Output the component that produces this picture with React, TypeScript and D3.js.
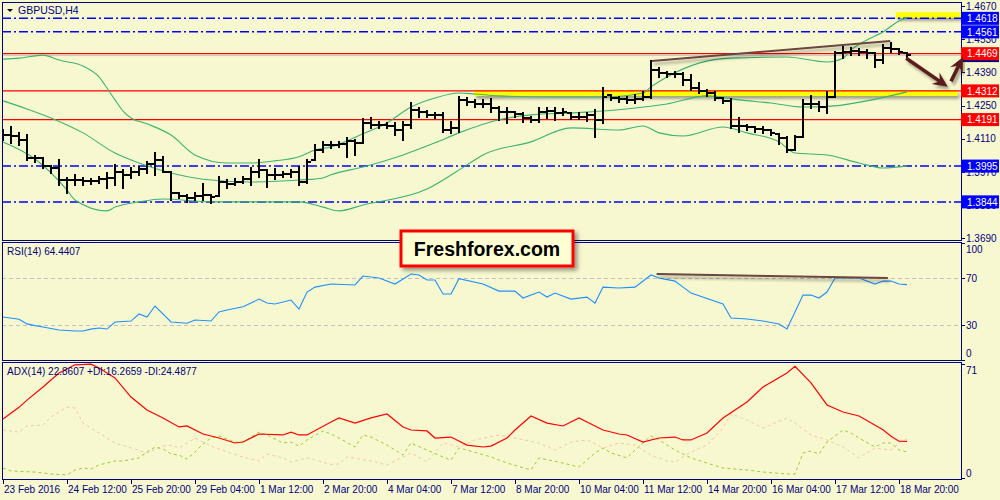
import React from 'react';
import * as d3 from 'd3';

const symbolTitle = 'GBPUSD,H4';
const rsiTitle = 'RSI(14) 64.4407';
const adxTitle = 'ADX(14) 22.8607 +DI:16.2659 -DI:24.4877';
const logoText = 'Freshforex.com';

const timeLabels = ['23 Feb 2016', '24 Feb 12:00', '25 Feb 20:00', '29 Feb 04:00', '1 Mar 12:00', '2 Mar 20:00', '4 Mar 04:00', '7 Mar 12:00', '8 Mar 20:00', '10 Mar 04:00', '11 Mar 12:00', '14 Mar 20:00', '16 Mar 04:00', '17 Mar 12:00', '18 Mar 20:00'];
const priceTicks = [1.467, 1.453, 1.439, 1.425, 1.411, 1.397, 1.383, 1.369];
const levelPrices = [1.4618, 1.4561, 1.4469, 1.4312, 1.4191, 1.3995, 1.3844];
const levelKinds = ['blue', 'blue', 'red', 'red', 'red', 'blue', 'blue'];
const bidPrice = 1.4463;
const rsiTicks = [100, 70, 30, 0];
const rsiLevels = [70, 30];
const adxTicks = [71, 0];

const barOpen = [1.4139, 1.4126, 1.4122, 1.4105, 1.4029, 1.4029, 1.3996, 1.3987, 1.3936, 1.3936, 1.3936, 1.3932, 1.3932, 1.3941, 1.3945, 1.397, 1.3958, 1.397, 1.3983, 1.4004, 1.4021, 1.397, 1.3882, 1.3869, 1.386, 1.3869, 1.3873, 1.3869, 1.3928, 1.392, 1.3928, 1.3941, 1.397, 1.3979, 1.3958, 1.3958, 1.3962, 1.397, 1.3928, 1.4021, 1.4063, 1.4084, 1.4084, 1.4088, 1.4101, 1.4093, 1.4177, 1.4168, 1.4168, 1.4164, 1.4147, 1.4168, 1.4232, 1.4223, 1.4211, 1.4211, 1.4147, 1.4156, 1.4274, 1.4265, 1.4257, 1.4257, 1.424, 1.4223, 1.4223, 1.4215, 1.4198, 1.419, 1.4223, 1.4227, 1.4219, 1.4219, 1.4202, 1.4202, 1.4211, 1.419, 1.4295, 1.4282, 1.4278, 1.4274, 1.4278, 1.4286, 1.44, 1.4387, 1.4383, 1.4383, 1.4358, 1.4324, 1.4312, 1.4303, 1.4282, 1.427, 1.4164, 1.4164, 1.416, 1.4152, 1.4147, 1.4131, 1.4114, 1.4063, 1.4118, 1.4257, 1.4257, 1.4244, 1.4286, 1.4472, 1.4476, 1.448, 1.4476, 1.4472, 1.4442, 1.4493, 1.4488, 1.4472];
const barHigh = [1.4147, 1.416, 1.4135, 1.4126, 1.4038, 1.4029, 1.3996, 1.4021, 1.3945, 1.3958, 1.3945, 1.3941, 1.3949, 1.3966, 1.4, 1.3979, 1.3987, 1.3991, 1.4012, 1.405, 1.4034, 1.397, 1.3882, 1.3873, 1.3882, 1.392, 1.3873, 1.3949, 1.3936, 1.3941, 1.3949, 1.3987, 1.4021, 1.3979, 1.3983, 1.397, 1.3979, 1.3991, 1.4021, 1.4084, 1.4097, 1.4097, 1.4097, 1.4114, 1.4105, 1.4194, 1.4198, 1.4181, 1.4177, 1.4177, 1.4181, 1.4261, 1.424, 1.4227, 1.4219, 1.4219, 1.4181, 1.4286, 1.4282, 1.4274, 1.4274, 1.4278, 1.4244, 1.424, 1.4223, 1.4219, 1.4202, 1.424, 1.424, 1.424, 1.4236, 1.4219, 1.4219, 1.4219, 1.4232, 1.4324, 1.4295, 1.4286, 1.4286, 1.4295, 1.4308, 1.4438, 1.4408, 1.4392, 1.4392, 1.4387, 1.4379, 1.4345, 1.4316, 1.4308, 1.4282, 1.4278, 1.4198, 1.4168, 1.416, 1.416, 1.4147, 1.4131, 1.4118, 1.4122, 1.4274, 1.4291, 1.4265, 1.4308, 1.4476, 1.4497, 1.4493, 1.4488, 1.4484, 1.4472, 1.4505, 1.4514, 1.4488, 1.4472];
const barLow = [1.4105, 1.4093, 1.4084, 1.4021, 1.4012, 1.3987, 1.3966, 1.3915, 1.3882, 1.3915, 1.3915, 1.392, 1.3924, 1.3903, 1.3915, 1.3903, 1.3945, 1.3958, 1.3966, 1.3958, 1.397, 1.3852, 1.386, 1.3844, 1.3852, 1.3852, 1.3839, 1.3869, 1.3903, 1.3915, 1.3924, 1.3915, 1.3949, 1.3907, 1.3941, 1.3949, 1.3949, 1.3915, 1.3924, 1.4021, 1.4055, 1.4072, 1.4076, 1.4034, 1.4042, 1.4093, 1.4156, 1.4156, 1.4156, 1.4126, 1.4105, 1.4156, 1.4202, 1.4202, 1.4198, 1.4139, 1.4135, 1.4139, 1.4253, 1.4244, 1.4244, 1.4223, 1.419, 1.4177, 1.4202, 1.4181, 1.4181, 1.4181, 1.4198, 1.419, 1.4211, 1.4194, 1.4194, 1.4185, 1.4118, 1.4177, 1.4274, 1.4265, 1.4261, 1.4261, 1.4274, 1.4282, 1.4371, 1.4371, 1.4371, 1.4337, 1.4316, 1.4303, 1.4291, 1.4274, 1.4261, 1.4156, 1.4139, 1.4147, 1.4139, 1.4135, 1.4126, 1.4088, 1.4055, 1.4063, 1.4118, 1.424, 1.4227, 1.4219, 1.4286, 1.445, 1.4463, 1.4463, 1.445, 1.4413, 1.4429, 1.4476, 1.4467, 1.4455];
const barClose = [1.4126, 1.4122, 1.4105, 1.4029, 1.4029, 1.3996, 1.3987, 1.3936, 1.3936, 1.3936, 1.3932, 1.3932, 1.3941, 1.3945, 1.397, 1.3958, 1.397, 1.3983, 1.4004, 1.4021, 1.397, 1.3882, 1.3869, 1.386, 1.3869, 1.3873, 1.3865, 1.3928, 1.392, 1.3928, 1.3941, 1.397, 1.3979, 1.3958, 1.3958, 1.3962, 1.397, 1.3928, 1.4012, 1.4063, 1.4084, 1.4084, 1.4088, 1.4101, 1.4093, 1.4177, 1.4168, 1.4168, 1.4164, 1.4147, 1.4168, 1.4232, 1.4223, 1.4211, 1.4211, 1.4147, 1.4156, 1.4274, 1.4265, 1.4257, 1.4257, 1.424, 1.4223, 1.4223, 1.4215, 1.4198, 1.419, 1.4223, 1.4227, 1.4219, 1.4223, 1.4202, 1.4202, 1.4211, 1.419, 1.4286, 1.4282, 1.4278, 1.4274, 1.4278, 1.4286, 1.44, 1.4387, 1.4383, 1.4383, 1.4358, 1.4324, 1.4312, 1.4303, 1.4282, 1.427, 1.4164, 1.4164, 1.416, 1.4152, 1.4147, 1.4135, 1.4114, 1.4063, 1.4118, 1.4257, 1.4257, 1.4244, 1.4286, 1.4472, 1.4476, 1.448, 1.4476, 1.4472, 1.4442, 1.4493, 1.4488, 1.4476, 1.4463];

// Bollinger bands [bar, price]
const bbUpper: [number, number][] = [[0, 1.4446], [2, 1.445], [5, 1.4463], [7, 1.4442], [10, 1.4417], [12, 1.4371], [13, 1.4324], [14, 1.4274], [15, 1.4227], [16, 1.4198], [18, 1.4173], [21, 1.4126], [24, 1.4042], [28, 1.4008], [31, 1.4008], [34, 1.4017], [37, 1.4034], [39, 1.4063], [41, 1.4076], [45, 1.4131], [48, 1.4177], [51, 1.4244], [54, 1.4282], [57, 1.4303], [59, 1.4299], [62, 1.4291], [69, 1.4286], [75, 1.4286], [80, 1.4303], [81, 1.4329], [83, 1.4371], [87, 1.4429], [91, 1.445], [98, 1.4455], [103, 1.4434], [105, 1.445], [106, 1.4484], [108, 1.4527], [110, 1.456], [112, 1.4607], [113, 1.4619]];
const bbMiddle: [number, number][] = [[0, 1.427], [3, 1.4236], [6, 1.4198], [10, 1.4135], [14, 1.405], [17, 1.4008], [21, 1.3966], [26, 1.3936], [31, 1.3928], [37, 1.3936], [40, 1.3945], [41, 1.3958], [45, 1.3991], [50, 1.4042], [54, 1.4093], [57, 1.4135], [62, 1.419], [66, 1.4211], [71, 1.4219], [75, 1.4227], [79, 1.424], [83, 1.4257], [88, 1.4291], [92, 1.4274], [96, 1.4261], [100, 1.4244], [104, 1.4249], [108, 1.427], [113, 1.4308]];
const bbLower: [number, number][] = [[0, 1.4097], [4, 1.4025], [8, 1.3894], [9, 1.3852], [13, 1.3806], [14, 1.3822], [17, 1.3844], [20, 1.3856], [26, 1.3844], [35, 1.3844], [37, 1.3844], [40, 1.3822], [42, 1.3806], [45, 1.3831], [53, 1.3898], [58, 1.4], [60, 1.4042], [66, 1.4097], [71, 1.4156], [77, 1.4147], [80, 1.4164], [82, 1.4135], [85, 1.4122], [90, 1.416], [93, 1.4135], [97, 1.4097], [99, 1.405], [103, 1.4042], [107, 1.4008], [110, 1.3987], [113, 1.3996]];

const rsiValues: [number, number][] = [[0, 36.8], [2, 35.0], [3, 31.0], [4, 29.5], [5, 28.3], [7, 25.8], [9, 24.9], [10, 24.9], [11, 26.5], [12, 27.5], [13, 26.6], [14, 32.6], [16, 33.4], [17, 39.4], [18, 36.8], [19, 46.2], [21, 32.6], [23, 31.5], [24, 34.3], [26, 33.4], [27, 41.1], [28, 42.8], [30, 45.5], [32, 52.1], [33, 48.7], [34, 47.9], [36, 51.3], [37, 43.6], [38, 58.1], [39, 62.3], [41, 64.9], [44, 64.1], [45, 71.7], [47, 70.0], [49, 64.9], [51, 73.4], [52, 72.6], [53, 68.4], [54, 68.4], [55, 56.4], [56, 56.4], [57, 69.5], [60, 64.9], [62, 58.9], [64, 58.9], [65, 53.0], [67, 58.1], [68, 53.8], [69, 57.2], [71, 52.1], [73, 53.8], [74, 48.7], [75, 62.3], [77, 61.5], [79, 62.3], [81, 72.6], [82, 70.0], [84, 67.4], [86, 57.2], [90, 47.9], [91, 36.0], [93, 35.1], [95, 33.4], [97, 30.9], [98, 26.6], [100, 55.5], [101, 55.5], [102, 53.0], [103, 58.1], [104, 70.0], [106, 70.0], [107, 70.0], [109, 64.9], [110, 67.4], [111, 67.4], [112, 65.0], [113, 64.44]];

const adxValues: [number, number][] = [[0, 36.7], [2, 44.0], [3, 48.5], [5, 56.7], [7, 65.4], [9, 70.5], [11, 70.9], [12, 68.5], [14, 62.3], [16, 50.4], [18, 42.3], [20, 37.4], [22, 31.8], [23, 32.4], [25, 27.4], [27, 24.9], [29, 21.8], [30, 22.4], [32, 27.4], [35, 26.8], [36, 28.6], [37, 26.8], [38, 26.8], [41, 34.9], [42, 37.4], [44, 34.2], [46, 37.4], [48, 39.9], [50, 31.8], [51, 29.9], [53, 29.3], [54, 24.9], [56, 25.5], [58, 20.5], [60, 19.3], [61, 19.9], [63, 24.9], [64, 29.9], [66, 38.6], [68, 34.2], [70, 32.4], [72, 37.4], [73, 34.9], [75, 29.9], [77, 27.4], [78, 26.8], [80, 22.4], [82, 24.9], [84, 25.5], [85, 23.7], [86, 23.7], [88, 28.0], [90, 37.4], [93, 47.3], [95, 56.7], [98, 65.4], [99, 69.5], [101, 59.2], [103, 45.5], [105, 41.1], [107, 38.6], [110, 30.0], [111, 26.0], [112, 22.9], [113, 22.86]];
const plusDI: [number, number][] = [[0, 6.2], [1, 4.4], [4, 3.7], [6, 2.5], [8, 1.9], [9, 5.0], [10, 6.2], [11, 5.6], [12, 8.1], [14, 10.6], [15, 10.6], [17, 12.5], [18, 16.2], [19, 19.3], [20, 18.1], [21, 14.9], [22, 14.3], [23, 11.8], [24, 16.2], [25, 21.2], [26, 24.9], [27, 26.2], [29, 22.4], [30, 22.4], [32, 28.6], [33, 26.8], [35, 21.8], [36, 22.4], [37, 19.9], [38, 23.7], [40, 29.3], [41, 27.4], [42, 24.9], [44, 19.3], [45, 26.8], [46, 25.5], [48, 20.5], [50, 14.3], [51, 21.8], [53, 17.4], [55, 13.1], [56, 11.2], [57, 18.7], [58, 17.4], [61, 13.1], [63, 9.3], [66, 5.0], [67, 12.5], [70, 9.3], [72, 6.8], [74, 15.6], [75, 18.7], [76, 15.6], [78, 12.5], [79, 17.4], [81, 26.2], [82, 23.7], [84, 17.4], [86, 12.5], [88, 9.3], [90, 6.2], [93, 5.0], [95, 3.7], [98, 2.5], [99, 2.5], [100, 15.6], [101, 16.8], [102, 14.9], [103, 22.4], [105, 29.9], [106, 28.0], [107, 24.9], [109, 19.3], [110, 21.8], [111, 21.8], [112, 17.5], [113, 16.27]];
const minusDI: [number, number][] = [[0, 29.9], [2, 28.6], [3, 32.4], [5, 33.0], [6, 38.0], [8, 44.2], [9, 43.6], [10, 34.2], [12, 28.0], [14, 21.8], [16, 18.7], [18, 15.6], [20, 19.9], [21, 20.5], [22, 18.7], [24, 24.9], [26, 19.9], [28, 16.2], [30, 13.1], [32, 10.6], [33, 14.9], [35, 12.5], [36, 10.0], [38, 12.5], [41, 8.5], [42, 8.7], [43, 13.1], [46, 10.6], [48, 8.1], [51, 15.6], [53, 10.0], [55, 21.8], [57, 19.3], [59, 23.7], [62, 26.8], [64, 24.9], [67, 21.8], [69, 17.4], [71, 22.4], [73, 23.7], [75, 18.7], [77, 21.8], [79, 20.5], [81, 14.3], [83, 10.6], [84, 10.0], [86, 16.2], [88, 20.5], [90, 31.1], [91, 39.9], [93, 36.1], [95, 31.1], [98, 37.4], [99, 34.2], [101, 26.8], [103, 23.7], [105, 19.3], [107, 12.5], [109, 18.7], [111, 17.4], [112, 21.8], [113, 24.49]];

// annotations in data units: [bar0, bar1, priceTop, priceBottom]
const yellowZones: [number, number, number, number][] = [[111.6, 119.8, 1.4644, 1.4620], [58.9, 119.3, 1.4314, 1.4291]];
const priceTrend: [number, number, number, number] = [81.1, 1.4438, 110.9, 1.4522];
const rsiTrend: [number, number, number, number] = [81.7, 73.4, 110.6, 70.0];
const arrowsData: [number, number, number, number][] = [[112.9, 1.4450, 118.1, 1.4329], [118.5, 1.4352, 120.0, 1.4455]];

const FONT = 'Liberation Sans, Arial, sans-serif';
const NAVY = '#000080';
const BG = '#F8F8D0';

export default function App() {
  const L = 2, R = 961;
  const main = { top: 2, bottom: 240 };
  const rsiP = { top: 242, bottom: 360 };
  const adxP = { top: 362, bottom: 479 };

  const x = d3.scaleLinear().domain([0, 113]).range([3, 907]);
  const yP = d3.scaleLinear().domain([1.369, 1.467]).range([238.4, 6]);
  const yR = d3.scaleLinear().domain([0, 100]).range([360.3, 242.8]);
  const yA = d3.scaleLinear().domain([0, 71]).range([478, 364]);

  const bandLine = d3.line<[number, number]>().x(d => x(d[0])).y(d => yP(d[1])).curve(d3.curveMonotoneX);
  const rsiLine = d3.line<[number, number]>().x(d => x(d[0])).y(d => yR(d[1]));
  const adxLine = d3.line<[number, number]>().x(d => x(d[0])).y(d => yA(d[1]));

  const arrowPoly = (sx: number, sy: number, tx: number, ty: number) => {
    const dx = tx - sx, dy = ty - sy;
    const len = Math.hypot(dx, dy);
    const ux = dx / len, uy = dy / len, nx = -uy, ny = ux;
    const hl = 15, hw = 7, sw = 1.8, notch = 4;
    const bx = tx - ux * hl, by = ty - uy * hl;
    const pts = [
      [sx + nx * sw, sy + ny * sw],
      [bx + ux * notch + nx * sw, by + uy * notch + ny * sw],
      [bx + nx * hw, by + ny * hw],
      [tx, ty],
      [bx - nx * hw, by - ny * hw],
      [bx + ux * notch - nx * sw, by + uy * notch - ny * sw],
      [sx - nx * sw, sy - ny * sw],
    ];
    return pts.map(p => p.join(',')).join(' ');
  };

  const timeTickX = timeLabels.map((_, k) => x(k * 8));

  return (
    <svg width={1000} height={500} style={{ position: 'absolute', left: 0, top: 0, background: BG }} fontFamily={FONT}>
      <defs>
        <clipPath id="clipMain"><rect x={L} y={main.top} width={R - L} height={main.bottom - main.top} /></clipPath>
        <clipPath id="clipRsi"><rect x={L} y={rsiP.top} width={R - L} height={rsiP.bottom - rsiP.top} /></clipPath>
        <clipPath id="clipAdx"><rect x={L} y={adxP.top} width={R - L} height={adxP.bottom - adxP.top} /></clipPath>
        <filter id="shadow" x="-10%" y="-100%" width="120%" height="400%">
          <feDropShadow dx="2" dy="3" stdDeviation="1.6" floodColor="#000" floodOpacity="0.35" />
        </filter>
        <filter id="shadowLogo" x="-10%" y="-20%" width="130%" height="150%">
          <feDropShadow dx="3" dy="3" stdDeviation="2" floodColor="#000" floodOpacity="0.4" />
        </filter>
      </defs>
      <rect x={0} y={0} width={1000} height={500} fill={BG} />

      {/* MAIN PANEL */}
      <g clipPath="url(#clipMain)">
        {/* yellow zones */}
        {yellowZones.map((z, i) => (
          <rect key={'yz' + i} x={x(z[0])} y={yP(z[2])} width={x(z[1]) - x(z[0])} height={yP(z[3]) - yP(z[2])} fill="#FFFF00" filter="url(#shadow)" />
        ))}
        {/* bid line */}
        <line x1={L} x2={R} y1={yP(bidPrice) + 0.5} y2={yP(bidPrice) + 0.5} stroke="#C8C8C8" strokeWidth={1} />
        {/* level lines */}
        {levelPrices.map((p, i) => (
          <line key={'lv' + i} x1={L} x2={R} y1={yP(p)} y2={yP(p)}
            stroke={levelKinds[i] === 'blue' ? '#0000FF' : '#FF0000'}
            strokeWidth={levelKinds[i] === 'blue' ? 1.5 : 1.2}
            strokeDasharray={levelKinds[i] === 'blue' ? '9,3,2,3' : undefined} />
        ))}
        {/* bollinger bands */}
        {[bbUpper, bbMiddle, bbLower].map((b, i) => (
          <path key={'bb' + i} d={bandLine(b) || ''} fill="none" stroke="#3CB371" strokeWidth={1.1} />
        ))}
        {/* bars */}
        <g stroke="#000" strokeWidth={2} shapeRendering="crispEdges">
          {barHigh.map((h, i) => {
            const cx = Math.round(x(i));
            const o = Math.round(yP(barOpen[i])), c = Math.round(yP(barClose[i]));
            return (
              <g key={'b' + i}>
                <line x1={cx} x2={cx} y1={Math.round(yP(h)) - 1} y2={Math.round(yP(barLow[i])) + 1} />
                <line x1={cx - 4} x2={cx} y1={o} y2={o} />
                <line x1={cx} x2={cx + 4} y1={c} y2={c} />
              </g>
            );
          })}
        </g>
        {/* trendline */}
        <line x1={x(priceTrend[0])} y1={yP(priceTrend[1])} x2={x(priceTrend[2])} y2={yP(priceTrend[3])} stroke="#6B4640" strokeWidth={2} filter="url(#shadow)" />
      </g>
      <rect x={L + 0.5} y={main.top + 0.5} width={R - L} height={main.bottom - main.top} fill="none" stroke={NAVY} strokeWidth={1} />
      <path d="M7,9 L13,9 L10,12 Z" fill="#000" />
      <text x={18} y={14} fontSize={10.5} fill={NAVY}>{symbolTitle}</text>

      {/* price axis */}
      {priceTicks.map((p, i) => (
        <g key={'pt' + i}>
          <line x1={R} x2={R + 4} y1={Math.round(yP(p)) + 0.5} y2={Math.round(yP(p)) + 0.5} stroke={NAVY} />
          <text x={966} y={yP(p) + 3.6} fontSize={10} fill={NAVY}>{p.toFixed(4)}</text>
        </g>
      ))}
      <rect x={R} y={yP(bidPrice) - 5} width={38} height={12} fill={NAVY} />
      {levelPrices.map((p, i) => (
        <g key={'lb' + i}>
          <rect x={R} y={yP(p) - 6.5} width={38} height={13} fill={levelKinds[i] === 'blue' ? '#0000FF' : '#FF0000'} />
          <text x={967} y={yP(p) + 3.7} fontSize={10} fill="#FFFFFF">{p.toFixed(4)}</text>
        </g>
      ))}

      {/* arrows */}
      {arrowsData.map((a, i) => (
        <polygon key={'ar' + i} points={arrowPoly(x(a[0]), yP(a[1]), x(a[2]), yP(a[3]))} fill="#5A1E1A" filter="url(#shadow)" />
      ))}

      {/* RSI PANEL */}
      <g clipPath="url(#clipRsi)">
        {rsiLevels.map((v, i) => (
          <line key={'rl' + i} x1={L} x2={R} y1={Math.round(yR(v)) + 0.5} y2={Math.round(yR(v)) + 0.5} stroke="#C0C0C0" strokeDasharray="4,3" />
        ))}
        <path d={rsiLine(rsiValues) || ''} fill="none" stroke="#1E90FF" strokeWidth={1.1} />
        <line x1={x(rsiTrend[0])} y1={yR(rsiTrend[1])} x2={x(rsiTrend[2])} y2={yR(rsiTrend[3])} stroke="#6B4640" strokeWidth={2} filter="url(#shadow)" />
      </g>
      <rect x={L + 0.5} y={rsiP.top + 0.5} width={R - L} height={rsiP.bottom - rsiP.top} fill="none" stroke={NAVY} strokeWidth={1} />
      <text x={7} y={255} fontSize={10} fill={NAVY}>{rsiTitle}</text>
      {rsiTicks.map((v, i) => {
        const yy = Math.min(Math.max(yR(v), rsiP.top + 7), rsiP.bottom - 7);
        return (
          <g key={'rt' + i}>
            <line x1={R} x2={R + 4} y1={Math.round(yR(v)) + 0.5} y2={Math.round(yR(v)) + 0.5} stroke={NAVY} />
            <text x={966} y={yy + 3.6} fontSize={10} fill={NAVY}>{v}</text>
          </g>
        );
      })}

      {/* ADX PANEL */}
      <g clipPath="url(#clipAdx)">
        <path d={adxLine(minusDI) || ''} fill="none" stroke="#F3C8A2" strokeWidth={1} strokeDasharray="3,3" />
        <path d={adxLine(plusDI) || ''} fill="none" stroke="#9ACD32" strokeWidth={1} strokeDasharray="3,3" />
        <path d={adxLine(adxValues) || ''} fill="none" stroke="#FF0000" strokeWidth={1.2} />
      </g>
      <rect x={L + 0.5} y={adxP.top + 0.5} width={R - L} height={adxP.bottom - adxP.top} fill="none" stroke={NAVY} strokeWidth={1} />
      <text x={7} y={375} fontSize={10} fill={NAVY}>{adxTitle}</text>
      {adxTicks.map((v, i) => {
        const yy = Math.min(Math.max(yA(v), adxP.top + 8), adxP.bottom - 6);
        return (
          <g key={'at' + i}>
            <line x1={R} x2={R + 4} y1={Math.round(yA(v)) + 0.5} y2={Math.round(yA(v)) + 0.5} stroke={NAVY} />
            <text x={966} y={yy + 3.6} fontSize={10} fill={NAVY}>{v}</text>
          </g>
        );
      })}

      {/* time axis */}
      {timeLabels.map((t, k) => (
        <g key={'tl' + k}>
          <line x1={Math.round(timeTickX[k]) + 0.5} x2={Math.round(timeTickX[k]) + 0.5} y1={adxP.bottom} y2={adxP.bottom + 5} stroke={NAVY} />
          <text x={timeTickX[k] + 1} y={493} fontSize={10} fill={NAVY}>{t}</text>
        </g>
      ))}

      {/* logo */}
      <rect x={401} y={231} width={172} height={35} fill="#FFFFD2" stroke="#FF0000" strokeWidth={3} filter="url(#shadowLogo)" />
      <text x={487} y={256} fontSize={19.5} fontWeight="bold" textAnchor="middle" fill="#000">{logoText}</text>
    </svg>
  );
}
